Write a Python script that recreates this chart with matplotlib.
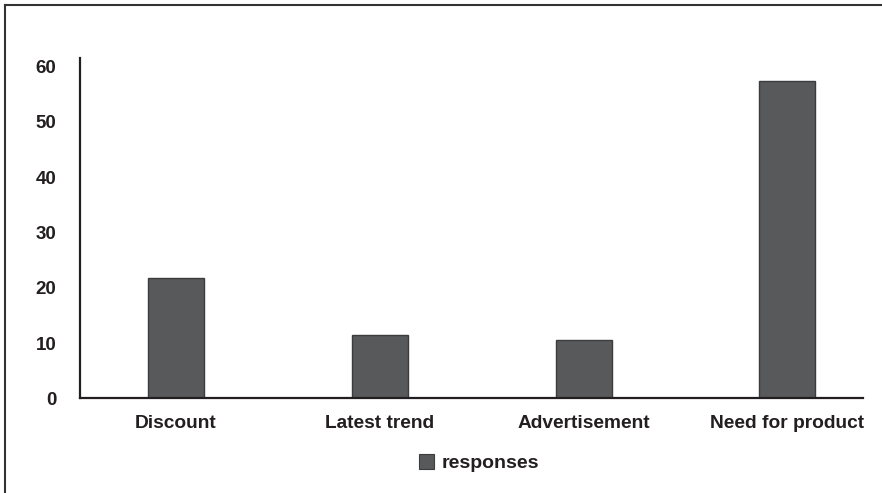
import matplotlib
matplotlib.use("Agg")
import matplotlib.pyplot as plt
from matplotlib.lines import Line2D
from matplotlib.patches import Patch

categories = ["Discount", "Latest trend", "Advertisement", "Need for product"]
responses = [21.8, 11.4, 10.6, 57.4]
yticks = [0, 10, 20, 30, 40, 50, 60]
series_name = "responses"

plt.rcParams['font.family'] = ['Liberation Sans', 'DejaVu Sans']

fig = plt.figure(figsize=(8.82, 4.93), dpi=100)
ax = fig.add_axes([0.0907, 0.1921, 0.8878, 0.6896])

bar_color = "#58595b"
edge_color = "#3c3c3e"
x = list(range(len(categories)))
ax.bar(x, responses, width=0.275, color=bar_color, edgecolor=edge_color, linewidth=1.0)

ax.set_xlim(-0.471, 3.371)
ax.set_ylim(0, 61.5)
ax.set_yticks(yticks)
ax.set_xticks(x)
ax.set_xticklabels(categories, fontsize=13.8, fontweight="bold", color="#231f20")
ax.set_yticklabels([str(v) for v in yticks], fontsize=13.5, fontweight="bold", color="#231f20")
ax.tick_params(axis="both", length=0)
ax.tick_params(axis="y", pad=17)
ax.tick_params(axis="x", pad=12)

for s in ["top", "right"]:
    ax.spines[s].set_visible(False)
for s in ["left", "bottom"]:
    ax.spines[s].set_color("#231f20")
    ax.spines[s].set_linewidth(1.6)

handle = Patch(facecolor=bar_color, edgecolor=edge_color, linewidth=0.8)
leg = fig.legend([handle], [series_name], loc="center", bbox_to_anchor=(0.543, 0.061),
                 frameon=False, prop={"weight": "bold", "size": 14},
                 handlelength=0.8, handleheight=0.8, handletextpad=0.4)
for t in leg.get_texts():
    t.set_color("#231f20")

# outer frame (top and left visible)
fig.add_artist(Line2D([5/882, 5/882], [0, 1 - 5/493], transform=fig.transFigure,
                      color="#333333", linewidth=1.5))
fig.add_artist(Line2D([5/882, 1], [1 - 5/493, 1 - 5/493], transform=fig.transFigure,
                      color="#333333", linewidth=1.5))

fig.savefig("out.png", dpi=100)
